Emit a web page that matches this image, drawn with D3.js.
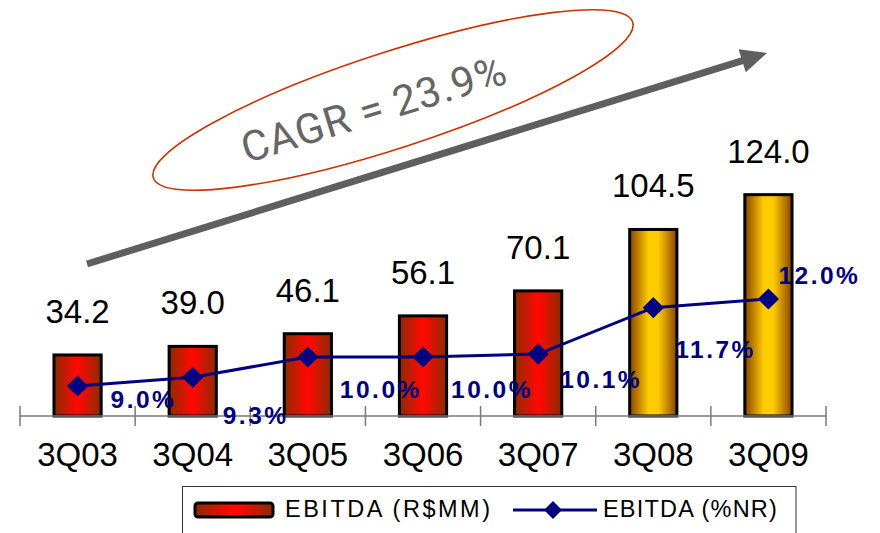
<!DOCTYPE html>
<html>
<head>
<meta charset="utf-8">
<script src="https://cdn.jsdelivr.net/npm/d3@7"></script>
<style>
  html, body { margin: 0; padding: 0; background: #fff; }
  svg { display: block; font-family: "Liberation Sans", Arial, sans-serif; }
</style>
</head>
<body>
<svg id="chart" width="880" height="533"></svg>
<script>
// Quarterly EBITDA (R$ MM) and EBITDA margin (% of net revenue)
const categories = ["3Q03", "3Q04", "3Q05", "3Q06", "3Q07", "3Q08", "3Q09"];
const ebitda = [34.2, 39.0, 46.1, 56.1, 70.1, 104.5, 124.0];
const ebitdaMargin = [9.0, 9.3, 10.0, 10.0, 10.1, 11.7, 12.0];
const legendLabels = ["EBITDA (R$MM)", "EBITDA (%NR)"];
const cagrText = "CAGR = 23.9%";

// Placement of the margin labels relative to their markers (dx, dy)
const marginLabelOffset = [[33, 22], [30, 47], [32, 41], [28, 41], [22, 34], [22, 50], [10, -15]];

const svg = d3.select("#chart");
const baseY = 416;

const x = d3.scaleBand()
  .domain(categories)
  .range([20, 826])
  .paddingInner(0.59)
  .paddingOuter(0.295);

const y = d3.scaleLinear().domain([0, 140]).range([baseY, baseY - 140 * 1.785]);
const y2 = d3.scaleLinear().domain([0, 15]).range([647, 212]);

// Gradients for the bars
const defs = svg.append("defs");
function addGradient(id, edge, center, spread) {
  const g = defs.append("linearGradient").attr("id", id)
    .attr("x1", "0%").attr("x2", "100%").attr("y1", "0%").attr("y2", "0%");
  g.append("stop").attr("offset", "0%").attr("stop-color", edge);
  g.append("stop").attr("offset", (50 - spread) + "%").attr("stop-color", center);
  g.append("stop").attr("offset", (50 + spread) + "%").attr("stop-color", center);
  g.append("stop").attr("offset", "100%").attr("stop-color", edge);
}
addGradient("gradRed", "#8a2c00", "#ff0800", 2);
addGradient("gradGold", "#8a4400", "#ffcc00", 10);

const barFill = d3.scaleOrdinal()
  .domain(categories)
  .range(["url(#gradRed)", "url(#gradRed)", "url(#gradRed)", "url(#gradRed)", "url(#gradRed)", "url(#gradGold)", "url(#gradGold)"]);

// Growth annotation: ellipse, CAGR text and arrow
svg.append("ellipse")
  .attr("cx", 0).attr("cy", 0).attr("rx", 252).attr("ry", 48)
  .attr("transform", "translate(393,100) rotate(-18)")
  .attr("fill", "none")
  .attr("stroke", "#cc3300")
  .attr("stroke-width", 1.6);

svg.append("text")
  .attr("transform", "translate(378,123) rotate(-17)")
  .attr("text-anchor", "middle")
  .attr("font-family", "Roboto, \"Liberation Sans\", sans-serif")
  .attr("font-weight", 400)
  .attr("font-size", 42)
  .attr("letter-spacing", 0.8)
  .attr("fill", "#666666")
  .text(cagrText);

const arrowStart = [87, 264], arrowTip = [767, 53];
const ang = Math.atan2(arrowTip[1] - arrowStart[1], arrowTip[0] - arrowStart[0]);
const headLen = 26, headHalf = 12;
const ux = Math.cos(ang), uy = Math.sin(ang);
const hb = [arrowTip[0] - ux * headLen, arrowTip[1] - uy * headLen];
svg.append("line")
  .attr("x1", arrowStart[0]).attr("y1", arrowStart[1])
  .attr("x2", hb[0] + ux * 2).attr("y2", hb[1] + uy * 2)
  .attr("stroke", "#5f5f5f").attr("stroke-width", 7);
svg.append("path")
  .attr("d", d3.line()([
    arrowTip,
    [hb[0] - uy * headHalf, hb[1] + ux * headHalf],
    [hb[0] + uy * headHalf, hb[1] - ux * headHalf]
  ]) + "Z")
  .attr("fill", "#5f5f5f");

// Bars
svg.append("g").selectAll("rect")
  .data(categories)
  .join("rect")
  .attr("x", d => x(d))
  .attr("y", (d, i) => y(ebitda[i]))
  .attr("width", x.bandwidth())
  .attr("height", (d, i) => baseY - y(ebitda[i]))
  .attr("fill", d => barFill(d))
  .attr("stroke", "#000")
  .attr("stroke-width", 3);

// Bar value labels
const fmt = d3.format(".1f");
svg.append("g").selectAll("text")
  .data(categories)
  .join("text")
  .attr("x", d => x(d) + x.bandwidth() / 2)
  .attr("y", (d, i) => y(ebitda[i]) - 32)
  .attr("text-anchor", "middle")
  .attr("font-size", 33)
  .attr("fill", "#000")
  .text((d, i) => fmt(ebitda[i]));

// Category axis
const axis = svg.append("g")
  .attr("transform", `translate(0,${baseY})`)
  .call(d3.axisBottom(x).tickSize(0).tickPadding(27));
axis.select(".domain").remove();
axis.selectAll("text")
  .attr("font-size", 33)
  .attr("font-family", "\"Liberation Sans\", Arial, sans-serif")
  .attr("fill", "#000");

svg.append("line")
  .attr("x1", x.range()[0]).attr("x2", x.range()[1])
  .attr("y1", baseY).attr("y2", baseY)
  .attr("stroke", "#7a7a7a").attr("stroke-width", 1.5);

const boundaries = d3.range(categories.length + 1).map(i => x.range()[0] + i * x.step());
svg.append("g").selectAll("line")
  .data(boundaries)
  .join("line")
  .attr("x1", d => d).attr("x2", d => d)
  .attr("y1", baseY - 10).attr("y2", baseY + 10)
  .attr("stroke", "#7a7a7a").attr("stroke-width", 1.5);

// Margin line with diamond markers
const cx = d => x(d) + x.bandwidth() / 2;
svg.append("path")
  .datum(categories)
  .attr("d", d3.line().x(d => cx(d)).y((d, i) => y2(ebitdaMargin[i])))
  .attr("fill", "none")
  .attr("stroke", "#000080")
  .attr("stroke-width", 3);

const diamond = d3.symbol().type(d3.symbolSquare).size(225);
svg.append("g").selectAll("path")
  .data(categories)
  .join("path")
  .attr("d", diamond)
  .attr("transform", (d, i) => `translate(${cx(d)},${y2(ebitdaMargin[i])}) rotate(45)`)
  .attr("fill", "#000080");

svg.append("g").selectAll("text")
  .data(categories)
  .join("text")
  .attr("x", (d, i) => cx(d) + marginLabelOffset[i][0])
  .attr("y", (d, i) => y2(ebitdaMargin[i]) + marginLabelOffset[i][1])
  .attr("font-size", 24.5)
  .attr("font-weight", "bold")
  .attr("letter-spacing", 2.5)
  .attr("fill", "#000080")
  .text((d, i) => fmt(ebitdaMargin[i]) + "%");

// Legend
const legend = svg.append("g");
legend.append("rect")
  .attr("x", 182.5).attr("y", 486.5)
  .attr("width", 613.5).attr("height", 60)
  .attr("fill", "#fff")
  .attr("stroke", "#333").attr("stroke-width", 1);

legend.append("rect")
  .attr("x", 195).attr("y", 503)
  .attr("width", 78).attr("height", 14)
  .attr("rx", 3)
  .attr("fill", "url(#gradRed)")
  .attr("stroke", "#000").attr("stroke-width", 3);
legend.append("text")
  .attr("x", 285).attr("y", 517)
  .attr("font-size", 23.5)
  .attr("letter-spacing", 2.5)
  .text(legendLabels[0]);

legend.append("line")
  .attr("x1", 513).attr("x2", 597)
  .attr("y1", 510).attr("y2", 510)
  .attr("stroke", "#000080").attr("stroke-width", 3);
legend.append("path")
  .attr("d", d3.symbol().type(d3.symbolSquare).size(160)())
  .attr("transform", "translate(553,510) rotate(45)")
  .attr("fill", "#000080");
legend.append("text")
  .attr("x", 603).attr("y", 517)
  .attr("font-size", 23.5)
  .attr("letter-spacing", 1.2)
  .text(legendLabels[1]);
</script>
</body>
</html>
